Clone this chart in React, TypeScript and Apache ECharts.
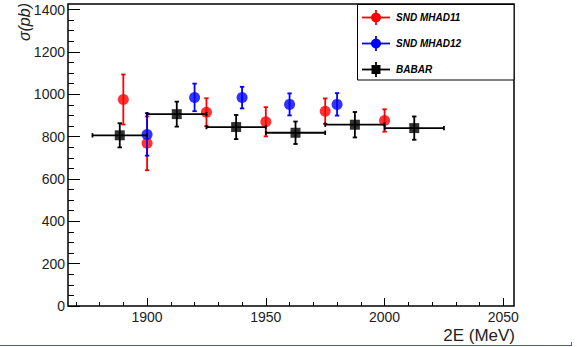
import React, { useEffect, useRef } from "react";
import * as echarts from "echarts";

// ---- data ----
const redX = [1890, 1900, 1925, 1950, 1975, 2000];
const redY = [975, 768, 915, 870, 920, 876];
const redErr = [118, 127, 66, 69, 60, 53];

const blueX = [1900, 1920, 1940, 1960, 1980];
const blueY = [810, 985, 984, 952, 952];
const blueErr = [100, 65, 51, 52, 53];

const babarLo = [1877, 1900, 1925, 1950, 1975, 2000];
const babarHi = [1900, 1925, 1950, 1975, 2000, 2025];
const babarY = [806, 906, 845, 818, 856, 840];
const babarErr = [57, 59, 57, 53, 60, 55];

const xMajorTicks = [1900, 1950, 2000, 2050];
const xMinorTicks = [1870, 1880, 1890, 1910, 1920, 1930, 1940, 1960, 1970, 1980, 1990, 2010, 2020, 2030, 2040];
const yMajorTicks = [0, 200, 400, 600, 800, 1000, 1200, 1400];
const yMinorTicks = [50, 100, 150, 250, 300, 350, 450, 500, 550, 650, 700, 750, 850, 900, 950, 1050, 1100, 1150, 1250, 1300, 1350];

const legendNames = ["SND MHAD11", "SND MHAD12", "BABAR"];

const FONT = "'Liberation Sans', Arial, Helvetica, sans-serif";

function makeRender(color: string) {
  return (_params: any, api: any) => {
    const x = api.value(0);
    const y = api.value(1);
    const lo = api.value(2);
    const hi = api.value(3);
    const xl = api.value(4);
    const xh = api.value(5);
    const c = api.coord([x, y]);
    const pTop = api.coord([x, hi]);
    const pBot = api.coord([x, lo]);
    const cap = 2.2;
    const style = { stroke: color, lineWidth: 1.8 };
    const children: any[] = [
      { type: "line", shape: { x1: c[0], y1: pTop[1], x2: c[0], y2: pBot[1] }, style },
      { type: "line", shape: { x1: c[0] - cap, y1: pTop[1], x2: c[0] + cap, y2: pTop[1] }, style },
      { type: "line", shape: { x1: c[0] - cap, y1: pBot[1], x2: c[0] + cap, y2: pBot[1] }, style },
    ];
    if (xh > xl) {
      const pl = api.coord([xl, y]);
      const pr = api.coord([xh, y]);
      children.push(
        { type: "line", shape: { x1: pl[0], y1: c[1], x2: pr[0], y2: c[1] }, style },
        { type: "line", shape: { x1: pl[0], y1: c[1] - cap, x2: pl[0], y2: c[1] + cap }, style },
        { type: "line", shape: { x1: pr[0], y1: c[1] - cap, x2: pr[0], y2: c[1] + cap }, style }
      );
    }
    return { type: "group", children };
  };
}

function legendEntry(y: number, color: string, square: boolean, name: string) {
  const s = { stroke: color, lineWidth: 1.8 };
  const els: any[] = [
    { type: "line", shape: { x1: 362, y1: y, x2: 390, y2: y }, style: s },
    { type: "line", shape: { x1: 376, y1: y - 7.5, x2: 376, y2: y + 7.5 }, style: s },
    square
      ? { type: "rect", shape: { x: 371.5, y: y - 4.5, width: 9, height: 9 }, style: { fill: color } }
      : { type: "circle", shape: { cx: 376, cy: y, r: 5 }, style: { fill: color } },
    {
      type: "text",
      x: 396,
      y: y,
      style: {
        text: name,
        fill: "#000",
        font: `italic bold 10px ${FONT}`,
        verticalAlign: "middle",
        align: "left",
      },
    },
  ];
  return els;
}

export default function App() {
  const ref = useRef<HTMLDivElement>(null);

  useEffect(() => {
    if (!ref.current) return;
    const chart = echarts.init(ref.current, null, { renderer: "svg" });

    const redData = redX.map((x, i) => [x, redY[i], redY[i] - redErr[i], redY[i] + redErr[i], x, x]);
    const blueData = blueX.map((x, i) => [x, blueY[i], blueY[i] - blueErr[i], blueY[i] + blueErr[i], x, x]);
    const babarData = babarLo.map((lo, i) => {
      const x = (lo + babarHi[i]) / 2;
      return [x, babarY[i], babarY[i] - babarErr[i], babarY[i] + babarErr[i], lo, babarHi[i]];
    });

    const xMin = 1866.7;
    const xMax = 2054.5;
    const yMin = 0;
    const yMax = 1426;

    const labelStyle = { color: "#222", fontSize: 14, fontFamily: FONT };

    chart.setOption({
      animation: false,
      grid: {
        left: 68,
        right: 63,
        top: 4,
        bottom: 41,
        show: true,
        borderColor: "#000",
        borderWidth: 1.5,
        backgroundColor: "transparent",
      },
      xAxis: [
        {
          type: "value",
          min: xMin,
          max: xMax,
          position: "bottom",
          axisLine: { show: false },
          splitLine: { show: false },
          axisTick: { show: true, inside: true, length: 8, customValues: xMajorTicks, lineStyle: { color: "#000", width: 1 } },
          axisLabel: { show: true, customValues: xMajorTicks, margin: 4, formatter: (v: number) => String(v), ...labelStyle },
        },
        {
          type: "value",
          min: xMin,
          max: xMax,
          position: "bottom",
          axisLine: { show: false },
          splitLine: { show: false },
          axisTick: { show: true, inside: true, length: 4, customValues: xMinorTicks, lineStyle: { color: "#000", width: 1 } },
          axisLabel: { show: false },
        },
      ],
      yAxis: [
        {
          type: "value",
          min: yMin,
          max: yMax,
          position: "left",
          axisLine: { show: false },
          splitLine: { show: false },
          axisTick: { show: true, inside: true, length: 12, customValues: yMajorTicks, lineStyle: { color: "#000", width: 1 } },
          axisLabel: { show: true, customValues: yMajorTicks, margin: 3, formatter: (v: number) => String(v), ...labelStyle },
        },
        {
          type: "value",
          min: yMin,
          max: yMax,
          position: "left",
          axisLine: { show: false },
          splitLine: { show: false },
          axisTick: { show: true, inside: true, length: 6, customValues: yMinorTicks, lineStyle: { color: "#000", width: 1 } },
          axisLabel: { show: false },
        },
      ],
      series: [
        {
          type: "custom",
          name: "SND MHAD11 err",
          xAxisIndex: 0,
          yAxisIndex: 0,
          renderItem: makeRender("#ff0000"),
          data: redData,
          encode: { x: 0, y: 1 },
          z: 2,
        },
        {
          type: "scatter",
          name: legendNames[0],
          xAxisIndex: 0,
          yAxisIndex: 0,
          symbol: "circle",
          symbolSize: 11,
          itemStyle: { color: "#ff0000" },
          data: redX.map((x, i) => [x, redY[i]]),
          z: 3,
        },
        {
          type: "custom",
          name: "SND MHAD12 err",
          xAxisIndex: 0,
          yAxisIndex: 0,
          renderItem: makeRender("#0000ff"),
          data: blueData,
          encode: { x: 0, y: 1 },
          z: 4,
        },
        {
          type: "scatter",
          name: legendNames[1],
          xAxisIndex: 0,
          yAxisIndex: 0,
          symbol: "circle",
          symbolSize: 11,
          itemStyle: { color: "#0000ff" },
          data: blueX.map((x, i) => [x, blueY[i]]),
          z: 5,
        },
        {
          type: "custom",
          name: "BABAR err",
          xAxisIndex: 0,
          yAxisIndex: 0,
          renderItem: makeRender("#000000"),
          data: babarData,
          encode: { x: 0, y: 1 },
          z: 6,
        },
        {
          type: "scatter",
          name: legendNames[2],
          xAxisIndex: 0,
          yAxisIndex: 0,
          symbol: "rect",
          symbolSize: 10,
          itemStyle: { color: "#000000" },
          data: babarData.map((d) => [d[0], d[1]]),
          z: 7,
        },
      ],
      graphic: [
        {
          type: "group",
          z: 100,
          children: [
            {
              type: "rect",
              shape: { x: 357.5, y: 4.5, width: 156.5, height: 75.5 },
              style: { fill: "#fff", stroke: "#000", lineWidth: 1 },
            },
            ...legendEntry(17.5, "#ff0000", false, legendNames[0]),
            ...legendEntry(43.5, "#0000ff", false, legendNames[1]),
            ...legendEntry(69.5, "#000000", true, legendNames[2]),
          ],
        },
        {
          type: "text",
          x: 24,
          y: 3,
          rotation: Math.PI / 2,
          style: {
            text: "σ(pb)",
            fill: "#222",
            font: `italic 16px ${FONT}`,
            align: "right",
            verticalAlign: "middle",
          },
        },
        {
          type: "text",
          x: 515,
          y: 335,
          style: {
            text: "2E (MeV)",
            fill: "#222",
            font: `17px ${FONT}`,
            align: "right",
            verticalAlign: "middle",
          },
        },
        {
          type: "line",
          shape: { x1: 0, y1: 345.5, x2: 572, y2: 345.5 },
          style: { stroke: "#4f4fdc", lineWidth: 1 },
        },
        {
          type: "line",
          shape: { x1: 571.5, y1: 342, x2: 571.5, y2: 345.5 },
          style: { stroke: "#4f4fdc", lineWidth: 1 },
        },
      ],
    });

    return () => {
      chart.dispose();
    };
  }, []);

  return (
    <div
      ref={ref}
      style={{ position: "fixed", left: 0, top: 0, width: 577, height: 347, background: "#fff" }}
    />
  );
}
